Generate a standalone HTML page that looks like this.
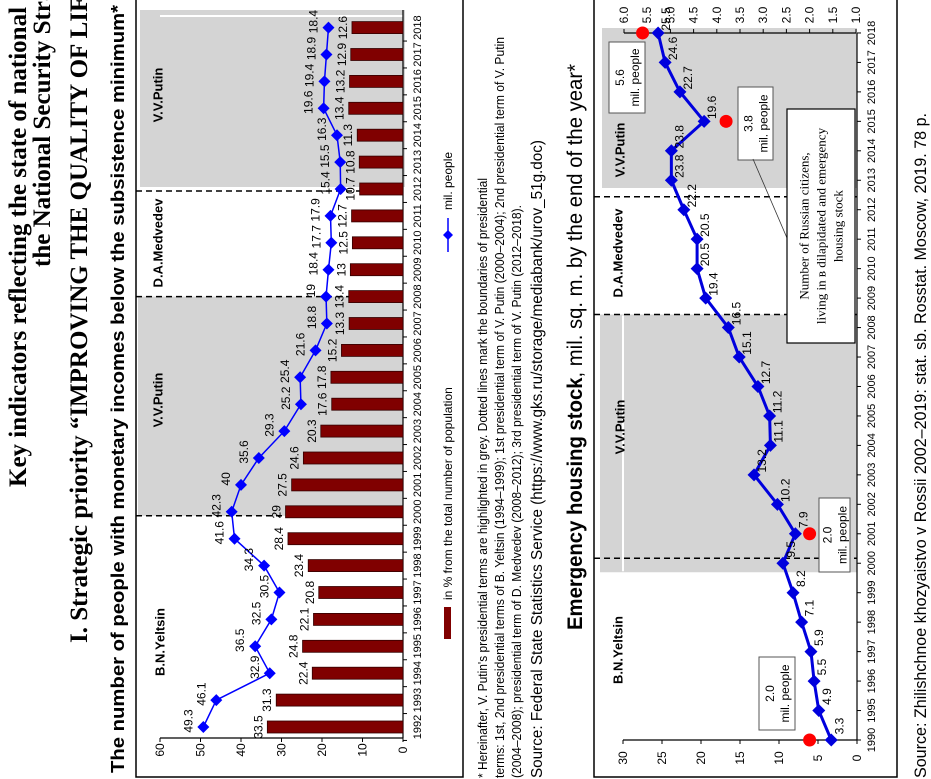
<!DOCTYPE html>
<html><head><meta charset="utf-8"><style>
html,body{margin:0;padding:0;background:#fff;width:931px;height:779px;overflow:hidden}
svg{display:block}
text{font-family:"Liberation Sans",sans-serif}
.serif{font-family:"Liberation Serif",serif}
</style></head><body>
<svg id="svg" width="931" height="779" viewBox="0 0 931 779" xmlns="http://www.w3.org/2000/svg">
<g id="titles">
<text class="serif" transform="translate(26,487) rotate(-90)" font-size="25" font-weight="bold">Key indicators reflecting the state of national security in the Russian Federation</text>
<text class="serif" transform="translate(50,267) rotate(-90)" font-size="25" font-weight="bold">the National Security Strategy</text>
<text class="serif" transform="translate(87,643) rotate(-90)" font-size="25" font-weight="bold">I. Strategic priority “IMPROVING THE QUALITY OF LIFE”</text>
<text transform="translate(124,773) rotate(-90)" font-size="18" font-weight="bold" textLength="768" lengthAdjust="spacingAndGlyphs">The number of people with monetary incomes below the subsistence minimum*</text>
</g>
<g id="notes">
<text transform="translate(487,778) rotate(-90)" font-size="12.5" textLength="600" lengthAdjust="spacingAndGlyphs">* Hereinafter, V. Putin's presidential terms are highlighted in grey. Dotted lines mark the boundaries of presidential</text>
<text transform="translate(504,778) rotate(-90)" font-size="12.5" textLength="741" lengthAdjust="spacingAndGlyphs">terms: 1st, 2nd presidential terms of B. Yeltsin (1994–1999); 1st presidential term of V. Putin (2000–2004); 2nd presidential term of V. Putin</text>
<text transform="translate(521,778) rotate(-90)" font-size="12.5" textLength="573" lengthAdjust="spacingAndGlyphs">(2004–2008); presidential term of D. Medvedev (2008–2012); 3rd presidential term of V. Putin (2012–2018).</text>
<text transform="translate(542,778) rotate(-90)" font-size="16" textLength="638" lengthAdjust="spacingAndGlyphs">Source: Federal State Statistics Service (https://www.gks.ru/storage/mediabank/urov_51g.doc)</text>
<text transform="translate(582,630) rotate(-90)" font-size="21" textLength="566" lengthAdjust="spacingAndGlyphs"><tspan font-weight="bold">Emergency housing stock</tspan>, mil. sq. m. by the end of the year*</text>
<text transform="translate(926,778) rotate(-90)" font-size="17" textLength="665" lengthAdjust="spacingAndGlyphs">Source: Zhilishchnoe khozyaistvo v Rossii 2002–2019: stat. sb. Rosstat. Moscow, 2019. 78 p.</text>
</g>
<g id="c1"></g>
<g id="c2"></g>
</svg>
<script>
// ---- Chart 1 data ----
const years1 = [1992,1993,1994,1995,1996,1997,1998,1999,2000,2001,2002,2003,2004,2005,2006,2007,2008,2009,2010,2011,2012,2013,2014,2015,2016,2017,2018];
const pctValues = [33.5,31.3,22.4,24.8,22.1,20.8,23.4,28.4,29,27.5,24.6,20.3,17.6,17.8,15.2,13.3,13.4,13,12.5,12.7,10.7,10.8,11.3,13.4,13.2,12.9,12.6];
const milPeople = [49.3,46.1,32.9,36.5,32.5,30.5,34.3,41.6,42.3,40,35.6,29.3,25.2,25.4,21.6,18.8,19,18.4,17.7,17.9,15.4,15.5,16.3,19.6,19.4,18.9,18.4];
const ticks1 = [0,10,20,30,40,50,60];
// ---- Chart 2 data ----
const years2 = [1990,1995,1996,1997,1998,1999,2000,2001,2002,2003,2004,2005,2006,2007,2008,2009,2010,2011,2012,2013,2014,2015,2016,2017,2018];
const housing = [3.3,4.9,5.5,5.9,7.1,8.2,9.5,7.9,10.2,13.2,11.1,11.2,12.7,15.1,16.5,19.4,20.5,20.5,22.2,23.8,23.8,19.6,22.7,24.6,25.5];
const peopleYears = [1990,2001,2015,2018];
const peopleValues = [2.0,2.0,3.8,5.6];
const ticks2 = [0,5,10,15,20,25,30];
const ticks2b = [1.0,1.5,2.0,2.5,3.0,3.5,4.0,4.5,5.0,5.5,6.0];

const NS='http://www.w3.org/2000/svg';
function mk(parent,tag,attrs,txt){const e=document.createElementNS(NS,tag);for(const k in attrs)e.setAttribute(k,attrs[k]);if(txt!==undefined)e.textContent=txt;parent.appendChild(e);return e;}
function rtext(parent,x,y,s,size,extra){const a=Object.assign({transform:`translate(${x},${y}) rotate(-90)`,'font-size':size,'text-anchor':'middle','dominant-baseline':'central',fill:'#000'},extra||{});return mk(parent,'text',a,s);}
function diamond(parent,x,y,r,col){return mk(parent,'polygon',{points:`${x-r},${y} ${x},${y-r} ${x+r},${y} ${x},${y+r}`,fill:col});}

// ===== Chart 1 =====
const c1=document.getElementById('c1');
const x1=v=>403-v*4.05;
const y1=i=>727-i*26.9;
const yy1=yr=>y1(years1.indexOf(yr));
let e;
e=mk(c1,'rect',{x:136,y:-2,width:327,height:779,fill:'#fff',stroke:'#000','stroke-width':1.5});

e=mk(c1,'rect',{x:138,y:yy1(2008),width:265,height:yy1(2000)-yy1(2008)+4,fill:'#d4d4d4'});

e=mk(c1,'rect',{x:140,y:10,width:265,height:yy1(2012)-12,fill:'#d4d4d4'});

mk(c1,'line',{x1:160,y1:16,x2:403,y2:16,stroke:'#fff','stroke-width':2});
[yy1(2000)+4,yy1(2008),yy1(2012)+2].forEach(y=>{e=mk(c1,'line',{x1:136,y1:y,x2:403,y2:y,stroke:'#000','stroke-width':1.5,'stroke-dasharray':'6,4'});
});
rtext(c1,158,95,'V.V.Putin',13,{'font-weight':'bold'});
rtext(c1,158,400,'V.V.Putin',13,{'font-weight':'bold'});
rtext(c1,158,243,'D.A.Medvedev',13,{'font-weight':'bold'});
rtext(c1,160,642,'B.N.Yeltsin',13,{'font-weight':'bold'});
// axes
mk(c1,'line',{x1:x1(60),y1:738,x2:403,y2:738,stroke:'#000','stroke-width':1.2});
mk(c1,'line',{x1:403,y1:10,x2:403,y2:738,stroke:'#000','stroke-width':1.2});
ticks1.forEach(t=>{mk(c1,'line',{x1:x1(t),y1:738,x2:x1(t),y2:742,stroke:'#000'});
e=rtext(c1,x1(t),750,String(t),12);});
years1.forEach((yr,i)=>{mk(c1,'line',{x1:403,y1:y1(i)+13.45,x2:407,y2:y1(i)+13.45,stroke:'#000'});
e=rtext(c1,418,y1(i),String(yr),11);});
// bars
pctValues.forEach((v,i)=>{e=mk(c1,'rect',{x:x1(v),y:y1(i)-6,width:403-x1(v),height:12,fill:'#800000',stroke:'#300','stroke-width':0.8});

rtext(c1,x1(v)-9,y1(i),String(v),12);});
// line
e=mk(c1,'polyline',{points:milPeople.map((v,i)=>x1(v)+','+y1(i)).join(' '),fill:'none',stroke:'#0000ff','stroke-width':1.5});

milPeople.forEach((v,i)=>{e=diamond(c1,x1(v),y1(i),6,'#0000ff');

rtext(c1,x1(v)-15,y1(i)-6,String(v),12);});
// legend
mk(c1,'line',{x1:448,y1:218,x2:448,y2:252,stroke:'#0000ff','stroke-width':1.5});
diamond(c1,448,235,5,'#0000ff');
e=mk(c1,'text',{transform:'translate(448,210) rotate(-90)','font-size':12,'dominant-baseline':'central'},'mil. people');

mk(c1,'rect',{x:444,y:607,width:7,height:32,fill:'#800000'});
e=mk(c1,'text',{transform:'translate(448,600) rotate(-90)','font-size':12,'dominant-baseline':'central'},'in % from the total number of population');


// ===== Chart 2 =====
const c2=document.getElementById('c2');
const x2=v=>857-v*7.8;
const xb=v=>856-(v-1)*46.4;
const y2=i=>740-i*29.46;
const yy2=yr=>y2(years2.indexOf(yr));
e=mk(c2,'rect',{x:594,y:-2,width:303,height:779,fill:'#fff',stroke:'#000','stroke-width':1.5});

e=mk(c2,'rect',{x:600,y:yy2(2008)-13,width:257,height:yy2(2000)-yy2(2008)+22,fill:'#d4d4d4'});

e=mk(c2,'rect',{x:602,y:28,width:255,height:160,fill:'#d4d4d4'});

mk(c2,'line',{x1:623,y1:yy2(2008)-12,x2:623,y2:yy2(2000)+8,stroke:'#fff','stroke-width':2});
[yy2(2000)-5,yy2(2008)-13,yy2(2012)-13].forEach(y=>{e=mk(c2,'line',{x1:594,y1:y,x2:857,y2:y,stroke:'#000','stroke-width':1.5,'stroke-dasharray':'6,4'});
});
rtext(c2,620,150,'V.V.Putin',13,{'font-weight':'bold'});
rtext(c2,620,427,'V.V.Putin',13,{'font-weight':'bold'});
rtext(c2,618,253,'D.A.Medvedev',13,{'font-weight':'bold'});
rtext(c2,618,650,'B.N.Yeltsin',13,{'font-weight':'bold'});
// axes
mk(c2,'line',{x1:x2(30),y1:740,x2:857,y2:740,stroke:'#000','stroke-width':1.2});
mk(c2,'line',{x1:857,y1:33,x2:857,y2:740,stroke:'#000','stroke-width':1.2});
mk(c2,'line',{x1:xb(6),y1:33,x2:856,y2:33,stroke:'#000','stroke-width':1.2});
ticks2.forEach(t=>{mk(c2,'line',{x1:x2(t),y1:740,x2:x2(t),y2:744,stroke:'#000'});
e=rtext(c2,x2(t),758,String(t),12);});
ticks2b.forEach(t=>{mk(c2,'line',{x1:xb(t),y1:29,x2:xb(t),y2:33,stroke:'#000'});
e=rtext(c2,xb(t),15,t.toFixed(1),12);});
years2.forEach((yr,i)=>{mk(c2,'line',{x1:857,y1:y2(i),x2:861,y2:y2(i),stroke:'#000'});
e=rtext(c2,872,y2(i),String(yr),11);});
// callout boxes
function box(x,y,w,h,l1,l2,name){const g=mk(c2,'g',{});

mk(g,'rect',{x:x,y:y,width:w,height:h,fill:'#fff',stroke:'#555','stroke-width':1});
rtext(g,x+w/2-7,y+h/2,l1,12);rtext(g,x+w/2+8,y+h/2,l2,12);}
box(759,657,36,73,'2.0','mil. people','callout-1990');
box(819,498,31,74,'2.0','mil. people','callout-2001');
box(738,87,35,73,'3.8','mil. people','callout-2015');
box(609,42,36,71,'5.6','mil. people','callout-2018');
mk(c2,'line',{x1:753,y1:159,x2:787,y2:238,stroke:'#333','stroke-width':0.8});
const nb=mk(c2,'g',{});


mk(nb,'rect',{x:787,y:109,width:68,height:234,fill:'#fff',stroke:'#000','stroke-width':1.2});
rtext(nb,804,226,'Number of Russian citizens,',13,{'class':'serif'});
rtext(nb,821,226,'living in в dilapidated and emergency',13,{'class':'serif'});
rtext(nb,838,226,'housing stock',13,{'class':'serif'});
// line
e=mk(c2,'polyline',{points:housing.map((v,i)=>x2(v)+','+y2(i)).join(' '),fill:'none',stroke:'#0000dd','stroke-width':3});

housing.forEach((v,i)=>{e=diamond(c2,x2(v),y2(i),6.5,'#0000dd');

rtext(c2,x2(v)+8,y2(i)-14,String(v),12);});
peopleYears.forEach((yr,i)=>{e=mk(c2,'circle',{cx:xb(peopleValues[i]),cy:yy2(yr),r:6.5,fill:'#ff0000'});
});
</script>
</body></html>
